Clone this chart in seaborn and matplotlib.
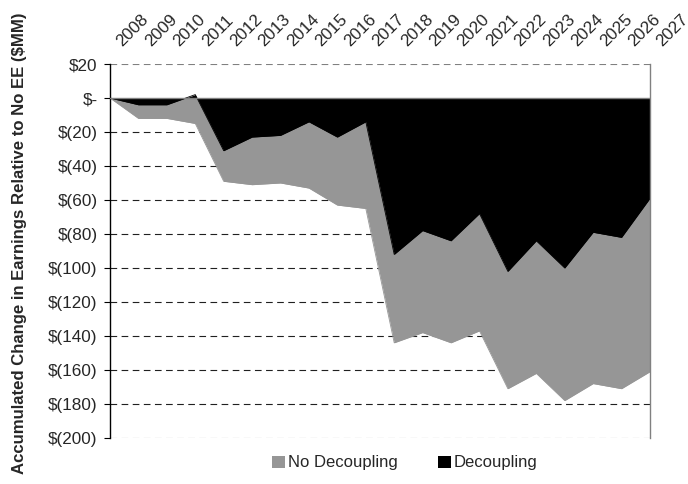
import matplotlib
matplotlib.use("Agg")
import matplotlib.pyplot as plt
from matplotlib.patches import Patch
import pandas as pd
import seaborn as sns

# ---- data ----
years = list(range(2008, 2028))
no_decoupling = [0, -12, -12, -15, -49, -51, -50, -53, -63, -65,
                 -144, -138, -144, -137, -171, -162, -178, -168, -171, -161]
decoupling = [0, -4, -4, 2, -31, -23, -22, -14, -23, -14,
              -92, -78, -84, -68, -102, -84, -100, -79, -82, -59]
y_ticks = [20, 0, -20, -40, -60, -80, -100, -120, -140, -160, -180, -200]
y_tick_labels = ["\\$20", "\\$-", "\\$(20)", "\\$(40)", "\\$(60)", "\\$(80)",
                 "\\$(100)", "\\$(120)", "\\$(140)", "\\$(160)", "\\$(180)", "\\$(200)"]
series_names = ["No Decoupling", "Decoupling"]
y_label = "Accumulated Change in Earnings Relative to No EE (\\$MM)"

GRAY = "#969696"
BLACK = "#000000"

sns.set_style("white")
plt.rcParams["font.family"] = ["Liberation Sans", "DejaVu Sans"]

df = pd.DataFrame({"year": years, "nodec": no_decoupling, "dec": decoupling})

fig = plt.figure(figsize=(6.88, 4.84), dpi=100)
ax = fig.add_axes([110 / 688, 1 - 438 / 484, 540 / 688, 374 / 484])

# gridlines (behind)
for v in y_ticks:
    if v == 0:
        continue
    ax.axhline(v, color="#808080" if v in (20, -200) else "#202020",
               lw=0.8, ls=(0, (6, 4)), zorder=0)

ax.fill_between(df["year"], 0, df["nodec"], color=GRAY, lw=0, zorder=1)
sns.lineplot(data=df, x="year", y="nodec", color=GRAY, lw=0.6, ax=ax, zorder=1)
ax.fill_between(df["year"], 0, df["dec"], color=BLACK, lw=0, zorder=2)
sns.lineplot(data=df, x="year", y="dec", color=BLACK, lw=0.6, ax=ax, zorder=2)

ax.axhline(0, color="#808080", lw=1.0, zorder=3)

ax.set_xlim(2008, 2027)
ax.set_ylim(-200, 20)
ax.set_yticks(y_ticks)
ax.set_yticklabels(y_tick_labels, fontsize=12.3)
ax.tick_params(axis="y", direction="out", length=4, width=0.8, color="black",
               pad=5, left=True)

# category labels along the top, rotated 45 degrees
ax.set_xticks(years)
ax.set_xticklabels([])
ax.tick_params(axis="x", length=0, bottom=False, top=False)
for yr in years:
    ax.annotate(str(yr), xy=(yr, 1), xycoords=("data", "axes fraction"),
                xytext=(9, 12.5), textcoords="offset points", rotation=45,
                ha="left", va="baseline", rotation_mode="anchor", fontsize=12.3,
                annotation_clip=False)

ax.set_xlabel("")
ax.set_ylabel(y_label, fontsize=12.1, fontweight="bold", va="center")
ax.yaxis.set_label_coords((19 - 110) / 540, (438 - 243) / 374)

for s in ["top", "bottom"]:
    ax.spines[s].set_visible(False)
ax.spines["left"].set_color("black")
ax.spines["left"].set_linewidth(1.0)
ax.spines["right"].set_color("#808080")
ax.spines["right"].set_linewidth(1.0)

handles = [Patch(facecolor=GRAY, edgecolor="none"),
           Patch(facecolor=BLACK, edgecolor="none")]
fig.legend(handles, series_names, loc="center",
           bbox_to_anchor=(405 / 688, 1 - 463 / 484), ncol=2, frameon=False,
           fontsize=12, handlelength=0.75, handleheight=0.75, handletextpad=0.2,
           columnspacing=2.4)

fig.savefig("out.png", dpi=100)
